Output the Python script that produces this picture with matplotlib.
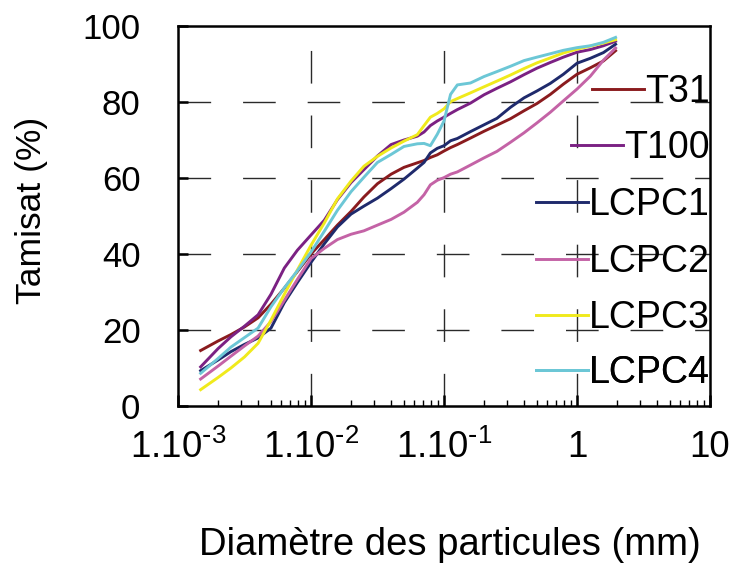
import matplotlib
matplotlib.use("Agg")
import matplotlib.pyplot as plt
from matplotlib.ticker import FixedLocator, LogLocator, NullFormatter, FixedFormatter

plt.rcParams['font.family'] = ['Liberation Sans', 'DejaVu Sans']
plt.rcParams['mathtext.default'] = 'regular'

# ---- data ----
diam_mm = [0.00148, 0.002, 0.0025, 0.00316, 0.004, 0.005, 0.0063, 0.0079, 0.01, 0.0126,
           0.0158, 0.02, 0.025, 0.0316, 0.04, 0.05, 0.063, 0.0708, 0.079, 0.089,
           0.1, 0.112, 0.126, 0.158, 0.2, 0.25, 0.316, 0.4, 0.5, 0.63,
           0.79, 1.0, 1.26, 1.58, 1.95]

t31 = [14.6, 17.1, 18.8, 20.8, 23.2, 26.8, 31.0, 35.4, 40.0, 43.8, 47.6, 51.2, 55.0, 58.5, 61.0,
       62.8, 64.0, 64.6, 65.4, 66.1, 67.1, 68.0, 68.8, 70.5, 72.3, 73.9, 75.6, 77.7, 79.6, 82.0,
       84.7, 87.3, 89.0, 90.8, 93.5]
t100 = [10.3, 15.1, 18.2, 21.0, 24.0, 29.4, 36.3, 41.0, 45.0, 48.9, 54.3, 58.8, 62.2, 65.8, 68.8,
        70.0, 71.0, 72.1, 73.8, 75.0, 76.0, 77.0, 78.0, 79.7, 81.9, 83.6, 85.3, 87.2, 88.9, 90.4,
        91.8, 93.1, 93.8, 94.8, 96.0]
lcpc1 = [9.3, 12.1, 14.3, 16.2, 17.9, 20.5, 27.2, 32.5, 37.8, 42.7, 47.1, 50.5, 52.6, 54.7, 57.2,
         59.7, 62.6, 64.1, 66.6, 67.8, 68.5, 69.8, 70.4, 72.2, 74.0, 75.7, 78.6, 81.1, 82.9, 84.9,
         87.3, 90.2, 91.5, 93.0, 95.2]
lcpc2 = [7.1, 10.5, 13.1, 15.8, 18.4, 22.2, 27.8, 33.3, 38.8, 41.5, 43.8, 45.2, 46.1, 47.6, 49.1,
         51.0, 53.6, 55.6, 58.2, 59.4, 60.1, 61.0, 61.6, 63.4, 65.3, 67.0, 69.4, 71.9, 74.5, 77.3,
         80.3, 83.4, 86.8, 91.0, 94.2]
lcpc3 = [4.3, 7.5, 10.0, 12.9, 16.5, 22.6, 29.4, 35.8, 42.3, 48.2, 54.5, 59.2, 63.1, 65.7, 67.9,
         69.7, 71.4, 73.8, 76.0, 77.0, 78.2, 80.1, 80.9, 82.4, 84.0, 85.5, 87.1, 88.8, 90.3, 91.6,
         92.9, 93.9, 94.7, 95.5, 96.4]
lcpc4 = [8.6, 12.5, 15.5, 18.0, 20.5, 26.1, 31.1, 35.6, 40.5, 46.0, 51.5, 56.4, 60.2, 64.1, 66.2,
         68.3, 69.0, 69.1, 68.5, 71.5, 75.0, 82.0, 84.5, 85.0, 86.7, 88.0, 89.4, 90.9, 91.8, 92.7,
         93.6, 94.3, 94.8, 95.7, 97.0]

series_names = ['T31', 'T100', 'LCPC1', 'LCPC2', 'LCPC3', 'LCPC4']
series_values = [t31, t100, lcpc1, lcpc2, lcpc3, lcpc4]
series_colors = ['#8a1b1e', '#7b2183', '#1f2a6c', '#c463a6', '#f0ea1c', '#6cc7d6']

x_ticks = [1e-3, 1e-2, 1e-1, 1, 10]
x_tick_labels = [r'1.10$^{\text{-}3}$', r'1.10$^{\text{-}2}$', r'1.10$^{\text{-}1}$', '1', '10']
y_ticks = [0, 20, 40, 60, 80, 100]

# ---- figure ----
fig = plt.figure(figsize=(7.3, 5.65), dpi=100)
ax = fig.add_axes([178 / 730, 1 - 406 / 565, 532 / 730, 380 / 565])

ax.set_xscale('log')
ax.set_xlim(1e-3, 10)
ax.set_ylim(0, 100)

lines = []
for name, vals, col in zip(series_names, series_values, series_colors):
    ln, = ax.plot(diam_mm, vals, color=col, lw=2.1, label=name, zorder=3)
    lines.append(ln)

# grid: long dashes
dash = (0, (23.5, 23.0))
for yv in [20, 40, 60, 80]:
    ax.axhline(yv, color='#2a2a2a', lw=1.0, linestyle=dash, zorder=1)
for xv in [1e-2, 1e-1, 1]:
    ax.axvline(xv, color='#2a2a2a', lw=1.0, linestyle=dash, zorder=1)

ax.xaxis.set_major_locator(FixedLocator(x_ticks))
ax.xaxis.set_major_formatter(FixedFormatter(x_tick_labels))
ax.xaxis.set_minor_locator(LogLocator(base=10, subs=range(2, 10)))
ax.xaxis.set_minor_formatter(NullFormatter())
ax.set_yticks(y_ticks)

ax.tick_params(axis='x', which='major', direction='in', length=8, width=1.8,
               labelsize=26.5, pad=17)
ax.tick_params(axis='x', which='minor', direction='in', length=4, width=1.0)
ax.tick_params(axis='y', which='major', direction='in', length=7, width=1.8,
               labelsize=25, pad=27)

for sp in ax.spines.values():
    sp.set_linewidth(1.8)

ax.set_xlabel('Diamètre des particules (mm)', fontsize=27.5)
ax.set_ylabel('Tamisat (%)', fontsize=25.5)
ax.xaxis.set_label_coords(0.511, -0.318)
ax.yaxis.set_label_coords(-0.245, 0.515)

# legend: one entry per row, right-aligned text
leg_y = [0.826, 0.679, 0.529, 0.379, 0.232, 0.087]
for ln, yy in zip(lines, leg_y):
    lg = ax.legend([ln], [ln.get_label()], loc='center right', bbox_to_anchor=(1.0, yy),
                   frameon=False, fontsize=27, handlelength=1.39, handletextpad=0.03,
                   borderpad=0, borderaxespad=0)
    ax.add_artist(lg)

fig.savefig('out.png', dpi=100)
